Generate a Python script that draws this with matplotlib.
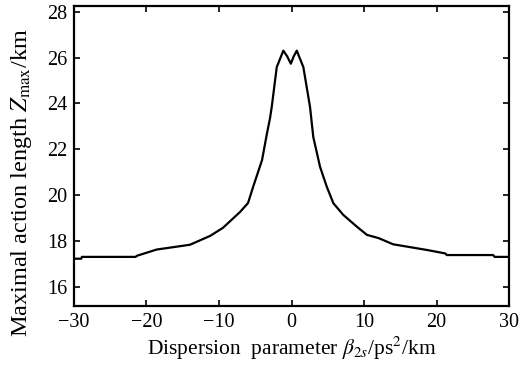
import numpy as np
import matplotlib.pyplot as plt

plt.rcParams['font.family'] = ['Liberation Serif', 'DejaVu Serif']
plt.rcParams['mathtext.fontset'] = 'stix'

# curve
beta = [-30, -29, -28.9, -21.5, -21.3, -18.6, -14.0, -11.2, -9.45, -7.1, -6.0, -5.3,
        -4.07, -3.38, -2.97, -2.73, -2.04, -1.13, -0.6, -0.1, 0.3, 0.72, 1.63, 2.55,
        3.0, 3.93, 4.86, 5.77, 7.14, 9.0, 10.4, 12.0, 14.0, 18.7, 21.2, 21.4, 27.8,
        28.0, 30]
zmax = [17.22, 17.22, 17.3, 17.3, 17.35, 17.62, 17.83, 18.22, 18.57, 19.26, 19.65, 20.35,
        21.52, 22.7, 23.35, 23.84, 25.58, 26.3, 26.05, 25.73, 26.05, 26.3, 25.58, 23.84,
        22.53, 21.23, 20.36, 19.64, 19.13, 18.62, 18.26, 18.12, 17.85, 17.6, 17.45, 17.38,
        17.38, 17.3, 17.3]

xticks = [-30, -20, -10, 0, 10, 20, 30]
yticks = [16, 18, 20, 22, 24, 26, 28]

fig = plt.figure(figsize=(5.32, 3.72), dpi=100)
ax = fig.add_axes([0.139, 0.177, 0.818, 0.807])

ax.plot(beta, zmax, color='k', lw=1.6)

ax.set_xlim(-30, 30)
ax.set_ylim(15.15, 28.25)
ax.set_xticks(xticks)
ax.set_yticks(yticks)
ax.set_xticklabels(['\u221230', '\u221220', '\u221210', '0', '10', '20', '30'])
ax.tick_params(direction='in', top=True, right=True, labelsize=14.5, length=4, width=1.2, pad=5)
for s in ax.spines.values():
    s.set_linewidth(1.6)

ax.set_xlabel(r'Dispersion  parameter $\beta_{2s}$/ps$^2$/km', fontsize=15.5, labelpad=2)
ax.set_ylabel(r'Maximal action length $Z_{\max}$/km', fontsize=17.5)
ax.yaxis.set_label_coords(-0.092, 0.41)

fig.savefig('out.png', dpi=100)
